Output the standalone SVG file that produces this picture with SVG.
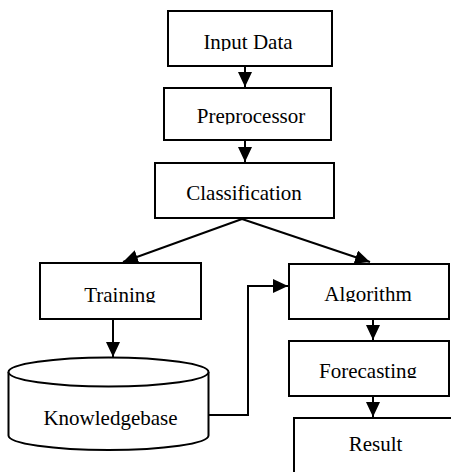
<svg xmlns="http://www.w3.org/2000/svg" width="451" height="472" viewBox="0 0 451 472">
<style>
.box{fill:#fff;stroke:#000;stroke-width:2}
.lbl{font-size:21px;fill:#000;text-anchor:middle}
.con{fill:none;stroke:#000;stroke-width:2}
</style>
<defs>
<marker id="ah" markerUnits="userSpaceOnUse" markerWidth="16" markerHeight="14" refX="15" refY="7" orient="auto" viewBox="0 0 16 14">
<path d="M0,0 L15,7 L0,14 Z" fill="#000"/>
</marker>
<clipPath id="cInput"><rect x="160" y="0" width="180" height="51"/></clipPath>
<clipPath id="cPre"><rect x="160" y="80" width="180" height="44.5"/></clipPath>
<clipPath id="cTrain"><rect x="30" y="255" width="180" height="47.5"/></clipPath>
<clipPath id="cAlgo"><rect x="280" y="255" width="180" height="47"/></clipPath>
<clipPath id="cFore"><rect x="280" y="335" width="180" height="43"/></clipPath>
</defs>
<g id="connectors">
<line class="con" x1="245" y1="66" x2="245" y2="87" marker-end="url(#ah)"/>
<line class="con" x1="245" y1="140" x2="245" y2="162" marker-end="url(#ah)"/>
<line class="con" x1="242" y1="219" x2="123" y2="262" marker-end="url(#ah)"/>
<line class="con" x1="242" y1="219" x2="370" y2="262" marker-end="url(#ah)"/>
<line class="con" x1="113" y1="319" x2="113" y2="357" marker-end="url(#ah)"/>
<polyline class="con" points="208,415 248,415 248,286 288,286" marker-end="url(#ah)"/>
<line class="con" x1="373" y1="319" x2="373" y2="340" marker-end="url(#ah)"/>
<line class="con" x1="373" y1="396" x2="373" y2="417" marker-end="url(#ah)"/>
</g>
<g font-family="'Liberation Serif', 'Times New Roman', Times, serif">
<g id="input-data">
<rect class="box" x="168" y="11" width="164" height="55"/>
<text class="lbl" x="248" y="49" clip-path="url(#cInput)">Input Data</text>
</g>
<g id="preprocessor">
<rect class="box" x="164" y="88" width="167" height="52"/>
<text class="lbl" x="251" y="123" clip-path="url(#cPre)">Preprocessor</text>
</g>
<g id="classification">
<rect class="box" x="155" y="163" width="179" height="55"/>
<text class="lbl" x="244" y="200">Classification</text>
</g>
<g id="training">
<rect class="box" x="40" y="263" width="161" height="56"/>
<text class="lbl" x="120" y="301.5" clip-path="url(#cTrain)">Training</text>
</g>
<g id="knowledgebase">
<path class="box" d="M8.5,372 L8.5,435.5 A100,14.5 0 0 0 208.5,435.5 L208.5,372"/>
<ellipse class="box" cx="108.5" cy="372" rx="100" ry="14.5"/>
<text class="lbl" x="110.5" y="425">Knowledgebase</text>
</g>
<g id="algorithm">
<rect class="box" x="289" y="264" width="160" height="55"/>
<text class="lbl" x="368" y="301" clip-path="url(#cAlgo)">Algorithm</text>
</g>
<g id="forecasting">
<rect class="box" x="289" y="341" width="160" height="55"/>
<text class="lbl" x="368" y="377.5" clip-path="url(#cFore)">Forecasting</text>
</g>
<g id="result">
<rect class="box" x="294" y="418" width="200" height="100"/>
<text class="lbl" x="375.5" y="450.5">Result</text>
</g>
</g>
</svg>
